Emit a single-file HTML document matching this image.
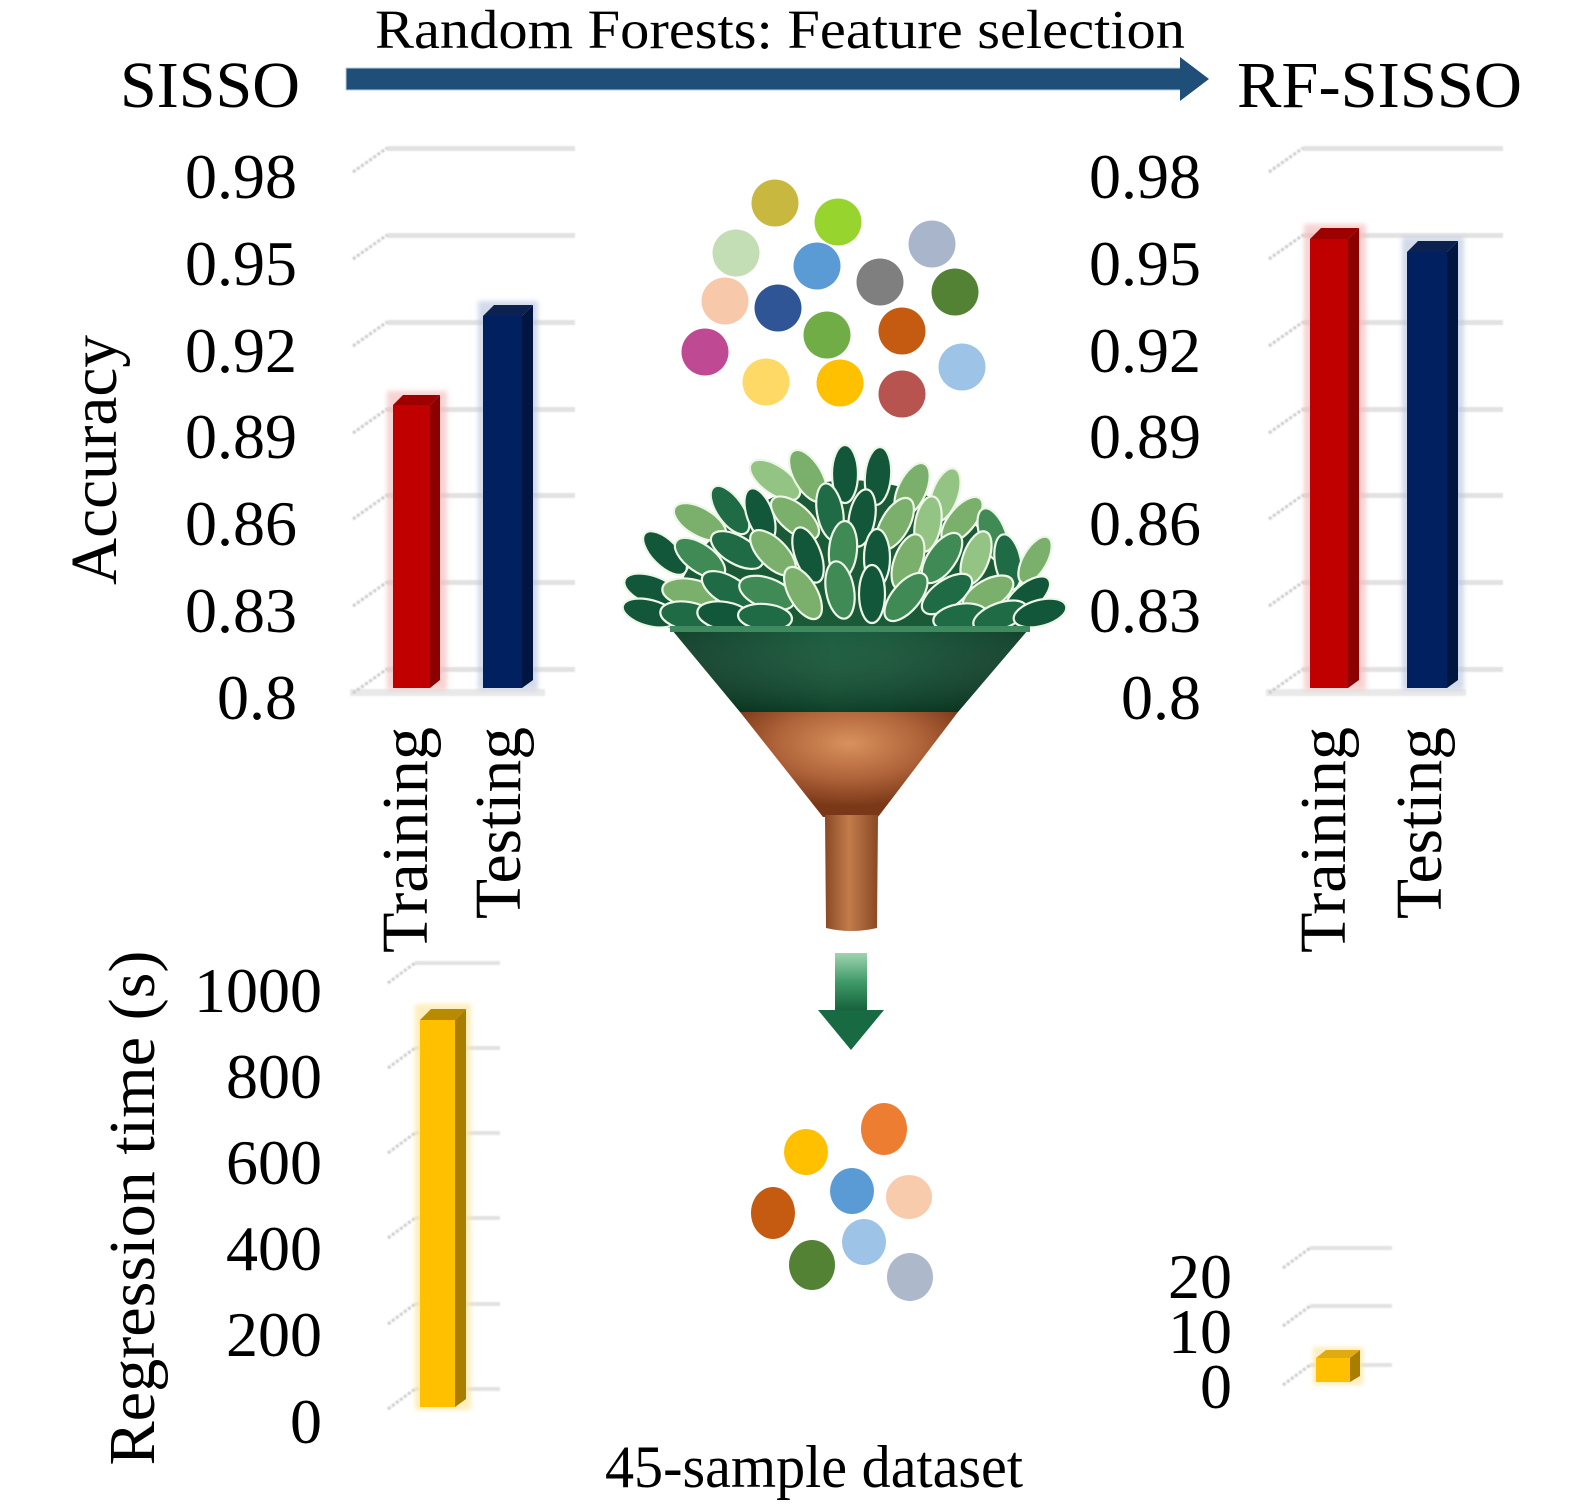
<!DOCTYPE html>
<html>
<head>
<meta charset="utf-8">
<style>
  html,body{margin:0;padding:0;background:#ffffff;}
  svg{display:block;}
  text{font-family:"Liberation Serif","Times New Roman",serif;fill:#000;}
</style>
</head>
<body>
<svg width="1583" height="1506" viewBox="0 0 1583 1506" xmlns="http://www.w3.org/2000/svg">
  <defs>
    <linearGradient id="gband" x1="0" y1="0" x2="1" y2="0">
      <stop offset="0" stop-color="#0a3a24"/>
      <stop offset="0.45" stop-color="#125636"/>
      <stop offset="0.6" stop-color="#115234"/>
      <stop offset="1" stop-color="#0a3a24"/>
    </linearGradient>
    <linearGradient id="gbandv" x1="0" y1="0" x2="0" y2="1">
      <stop offset="0" stop-color="#ffffff" stop-opacity="0.04"/>
      <stop offset="1" stop-color="#000000" stop-opacity="0.25"/>
    </linearGradient>
    <radialGradient id="brown" cx="0.5" cy="0.3" r="0.6">
      <stop offset="0" stop-color="#d9925d"/>
      <stop offset="0.55" stop-color="#b0643a"/>
      <stop offset="1" stop-color="#7a3818"/>
    </radialGradient>
    <linearGradient id="spout" x1="0" y1="0" x2="1" y2="0">
      <stop offset="0" stop-color="#8a4825"/>
      <stop offset="0.45" stop-color="#c27c4b"/>
      <stop offset="1" stop-color="#8a4825"/>
    </linearGradient>
    <linearGradient id="garrow" x1="0" y1="0" x2="0" y2="1">
      <stop offset="0" stop-color="#9fd4b0"/>
      <stop offset="0.5" stop-color="#3f9a68"/>
      <stop offset="1" stop-color="#15603b"/>
    </linearGradient>
    <filter id="soft" x="-10%" y="-10%" width="120%" height="120%">
      <feGaussianBlur stdDeviation="0.9"/>
    </filter>
    <filter id="halo" x="-30%" y="-30%" width="160%" height="160%">
      <feGaussianBlur stdDeviation="2.5"/>
    </filter>
  </defs>

  <rect x="0" y="0" width="1583" height="1506" fill="#ffffff"/>

  <!-- ===== Top header ===== -->
  <text x="375" y="48" font-size="55" textLength="810" lengthAdjust="spacingAndGlyphs">Random Forests: Feature selection</text>
  <text x="120" y="107" font-size="66" textLength="180" lengthAdjust="spacingAndGlyphs">SISSO</text>
  <text x="1237" y="107" font-size="66" textLength="285" lengthAdjust="spacingAndGlyphs">RF-SISSO</text>
  <rect x="346" y="68" width="836" height="22" fill="#1f4e79" stroke="#b9cde0" stroke-width="1"/>
  <polygon points="1180,57 1209,79 1180,101" fill="#1f4e79"/>

  <!-- ===== Left accuracy chart ===== -->
  <g filter="url(#soft)">
    <g fill="#e2e2e2">
      <rect x="387" y="146" width="188" height="5"/>
      <rect x="387" y="233" width="188" height="5"/>
      <rect x="387" y="320" width="188" height="5"/>
      <rect x="387" y="407" width="188" height="5"/>
      <rect x="387" y="493" width="188" height="5"/>
      <rect x="387" y="580" width="188" height="5"/>
      <rect x="387" y="667" width="188" height="5"/>
      <rect x="350" y="689" width="195" height="7" fill="#e9e9e9"/>
    </g>
    <g stroke="#c9c9c9" stroke-width="3" stroke-dasharray="3,2">
      <line x1="353" y1="172" x2="387" y2="148"/>
      <line x1="353" y1="259" x2="387" y2="235"/>
      <line x1="353" y1="346" x2="387" y2="322"/>
      <line x1="353" y1="433" x2="387" y2="409"/>
      <line x1="353" y1="519" x2="387" y2="495"/>
      <line x1="353" y1="606" x2="387" y2="582"/>
      <line x1="353" y1="693" x2="387" y2="669"/>
    </g>
  </g>
  <rect x="387" y="391" width="60" height="299" fill="#f3b5b5" opacity="0.6" filter="url(#halo)"/>
  <polygon points="430,405 440,395 440,680 430,688" fill="#8c0000"/>
  <polygon points="393,405 403,395 440,395 430,405" fill="#9e0000"/>
  <rect x="393" y="405" width="37" height="283" fill="#c00000"/>
  <rect x="478" y="301" width="60" height="389" fill="#b6c2dc" opacity="0.6" filter="url(#halo)"/>
  <polygon points="522,316 533,305 533,680 522,688" fill="#00153f"/>
  <polygon points="483,316 494,305 533,305 522,316" fill="#0c2150"/>
  <rect x="483" y="316" width="39" height="372" fill="#002060"/>

  <g font-size="64" text-anchor="end">
    <text x="297" y="198">0.98</text>
    <text x="297" y="285">0.95</text>
    <text x="297" y="372">0.92</text>
    <text x="297" y="458">0.89</text>
    <text x="297" y="545">0.86</text>
    <text x="297" y="632">0.83</text>
    <text x="297" y="719">0.8</text>
  </g>
  <text transform="translate(116,460) rotate(-90)" font-size="66" text-anchor="middle" textLength="250" lengthAdjust="spacingAndGlyphs">Accuracy</text>
  <text transform="translate(427,727) rotate(-90)" font-size="66" text-anchor="end" textLength="226" lengthAdjust="spacingAndGlyphs">Training</text>
  <text transform="translate(520,727) rotate(-90)" font-size="66" text-anchor="end" textLength="192" lengthAdjust="spacingAndGlyphs">Testing</text>

  <!-- ===== Right accuracy chart ===== -->
  <g filter="url(#soft)">
    <g fill="#e2e2e2">
      <rect x="1303" y="146" width="200" height="5"/>
      <rect x="1303" y="233" width="200" height="5"/>
      <rect x="1303" y="320" width="200" height="5"/>
      <rect x="1303" y="407" width="200" height="5"/>
      <rect x="1303" y="493" width="200" height="5"/>
      <rect x="1303" y="580" width="200" height="5"/>
      <rect x="1303" y="667" width="200" height="5"/>
      <rect x="1266" y="689" width="200" height="7" fill="#e9e9e9"/>
    </g>
    <g stroke="#c9c9c9" stroke-width="3" stroke-dasharray="3,2">
      <line x1="1269" y1="172" x2="1303" y2="148"/>
      <line x1="1269" y1="259" x2="1303" y2="235"/>
      <line x1="1269" y1="346" x2="1303" y2="322"/>
      <line x1="1269" y1="433" x2="1303" y2="409"/>
      <line x1="1269" y1="519" x2="1303" y2="495"/>
      <line x1="1269" y1="606" x2="1303" y2="582"/>
      <line x1="1269" y1="693" x2="1303" y2="669"/>
    </g>
  </g>
  <rect x="1304" y="224" width="62" height="466" fill="#f3b5b5" opacity="0.6" filter="url(#halo)"/>
  <polygon points="1348,239 1359,228 1359,680 1348,688" fill="#8c0000"/>
  <polygon points="1310,239 1321,228 1359,228 1348,239" fill="#9e0000"/>
  <rect x="1310" y="239" width="38" height="449" fill="#c00000"/>
  <rect x="1402" y="237" width="62" height="453" fill="#b6c2dc" opacity="0.6" filter="url(#halo)"/>
  <polygon points="1447,252 1458,241 1458,680 1447,688" fill="#00153f"/>
  <polygon points="1407,252 1418,241 1458,241 1447,252" fill="#0c2150"/>
  <rect x="1407" y="252" width="40" height="436" fill="#002060"/>

  <g font-size="64" text-anchor="end">
    <text x="1201" y="198">0.98</text>
    <text x="1201" y="285">0.95</text>
    <text x="1201" y="372">0.92</text>
    <text x="1201" y="458">0.89</text>
    <text x="1201" y="545">0.86</text>
    <text x="1201" y="632">0.83</text>
    <text x="1201" y="719">0.8</text>
  </g>
  <text transform="translate(1345,727) rotate(-90)" font-size="66" text-anchor="end" textLength="226" lengthAdjust="spacingAndGlyphs">Training</text>
  <text transform="translate(1441,727) rotate(-90)" font-size="66" text-anchor="end" textLength="192" lengthAdjust="spacingAndGlyphs">Testing</text>

  <!-- ===== Bottom-left regression time chart ===== -->
  <g filter="url(#soft)">
    <g fill="#e2e2e2">
      <rect x="415" y="961" width="85" height="4"/>
      <rect x="415" y="1046" width="85" height="4"/>
      <rect x="415" y="1131" width="85" height="4"/>
      <rect x="415" y="1216" width="85" height="4"/>
      <rect x="415" y="1302" width="85" height="4"/>
      <rect x="415" y="1387" width="85" height="4"/>
    </g>
    <g stroke="#cbcbcb" stroke-width="3" stroke-dasharray="3,2">
      <line x1="388" y1="983" x2="415" y2="963"/>
      <line x1="388" y1="1068" x2="415" y2="1048"/>
      <line x1="388" y1="1153" x2="415" y2="1133"/>
      <line x1="388" y1="1238" x2="415" y2="1218"/>
      <line x1="388" y1="1324" x2="415" y2="1304"/>
      <line x1="388" y1="1409" x2="415" y2="1389"/>
    </g>
  </g>
  <rect x="415" y="1004" width="56" height="406" fill="#fde7a0" opacity="0.7" filter="url(#halo)"/>
  <polygon points="455,1020 466,1009 466,1399 455,1407" fill="#a87d00"/>
  <polygon points="420,1020 431,1009 466,1009 455,1020" fill="#b88a00"/>
  <rect x="420" y="1020" width="35" height="387" fill="#ffc000"/>

  <g font-size="64" text-anchor="end">
    <text x="322" y="1012">1000</text>
    <text x="322" y="1098">800</text>
    <text x="322" y="1184">600</text>
    <text x="322" y="1270">400</text>
    <text x="322" y="1356">200</text>
    <text x="322" y="1443">0</text>
  </g>
  <text transform="translate(154,1208) rotate(-90)" font-size="66" text-anchor="middle" textLength="515" lengthAdjust="spacingAndGlyphs">Regression time (s)</text>

  <!-- ===== Bottom-right regression time chart ===== -->
  <g filter="url(#soft)">
    <g fill="#e2e2e2">
      <rect x="1310" y="1246" width="82" height="4"/>
      <rect x="1310" y="1304" width="82" height="4"/>
      <rect x="1310" y="1363" width="82" height="4"/>
    </g>
    <g stroke="#cbcbcb" stroke-width="3" stroke-dasharray="3,2">
      <line x1="1283" y1="1268" x2="1310" y2="1248"/>
      <line x1="1283" y1="1326" x2="1310" y2="1306"/>
      <line x1="1283" y1="1385" x2="1310" y2="1365"/>
    </g>
  </g>
  <rect x="1313" y="1347" width="50" height="38" fill="#fde7a0" opacity="0.7" filter="url(#halo)"/>
  <polygon points="1350,1358 1360,1350 1360,1376 1350,1382" fill="#a87d00"/>
  <polygon points="1316,1358 1326,1350 1360,1350 1350,1358" fill="#e0aa10"/>
  <rect x="1316" y="1358" width="34" height="24" fill="#ffc000"/>
  <g font-size="64" text-anchor="end">
    <text x="1232" y="1298">20</text>
    <text x="1232" y="1353">10</text>
    <text x="1232" y="1408">0</text>
  </g>

  <!-- ===== Top feature circles ===== -->
  <g>
    <circle cx="775" cy="203" r="23.5" fill="#c8b840"/>
    <circle cx="838" cy="222" r="23.5" fill="#98d42e"/>
    <circle cx="736" cy="253" r="23.5" fill="#c3ddb5"/>
    <circle cx="817" cy="266" r="23.5" fill="#5a9bd5"/>
    <circle cx="932" cy="244" r="23.5" fill="#a9b5ca"/>
    <circle cx="880" cy="282" r="23.5" fill="#7f7f7f"/>
    <circle cx="955" cy="292" r="23.5" fill="#548235"/>
    <circle cx="725" cy="301" r="23.5" fill="#f7c8a9"/>
    <circle cx="778" cy="308" r="23.5" fill="#2f5597"/>
    <circle cx="827" cy="335" r="23.5" fill="#70ad47"/>
    <circle cx="902" cy="331" r="23.5" fill="#c55a11"/>
    <circle cx="705" cy="352" r="23.5" fill="#bf4a93"/>
    <circle cx="766" cy="382" r="23.5" fill="#ffd966"/>
    <circle cx="840" cy="383" r="23.5" fill="#ffc000"/>
    <circle cx="902" cy="394" r="23.5" fill="#b85450"/>
    <circle cx="962" cy="367" r="23.5" fill="#9dc3e6"/>
  </g>

  <!-- ===== Tree / funnel ===== -->
  <path d="M668,628 Q678,565 722,530 Q778,482 850,480 Q928,482 980,530 Q1022,565 1028,628 Z" fill="#1b5a37"/>
  <g stroke="#eef6e8" stroke-width="2.2">
    <!-- row A -->
    <ellipse cx="775" cy="480" rx="14" ry="29" transform="rotate(-55 775 480)" fill="#94c484"/>
    <ellipse cx="808" cy="476" rx="14" ry="29" transform="rotate(-30 808 476)" fill="#7ab06c"/>
    <ellipse cx="845" cy="474" rx="13" ry="29" fill="#13573a"/>
    <ellipse cx="878" cy="476" rx="13" ry="29" transform="rotate(5 878 476)" fill="#13573a"/>
    <ellipse cx="912" cy="490" rx="14" ry="29" transform="rotate(25 912 490)" fill="#7ab06c"/>
    <ellipse cx="945" cy="495" rx="13" ry="28" transform="rotate(20 945 495)" fill="#94c484"/>
    <!-- row B -->
    <ellipse cx="700" cy="522" rx="14" ry="29" transform="rotate(-60 700 522)" fill="#7ab06c"/>
    <ellipse cx="730" cy="510" rx="13" ry="28" transform="rotate(-35 730 510)" fill="#1f6b45"/>
    <ellipse cx="760" cy="515" rx="13" ry="28" transform="rotate(-20 760 515)" fill="#13573a"/>
    <ellipse cx="795" cy="518" rx="14" ry="29" transform="rotate(-50 795 518)" fill="#7ab06c"/>
    <ellipse cx="830" cy="512" rx="13" ry="29" transform="rotate(-10 830 512)" fill="#1f6b45"/>
    <ellipse cx="862" cy="518" rx="13" ry="29" transform="rotate(10 862 518)" fill="#13573a"/>
    <ellipse cx="895" cy="524" rx="14" ry="29" transform="rotate(30 895 524)" fill="#7ab06c"/>
    <ellipse cx="928" cy="524" rx="13" ry="28" transform="rotate(10 928 524)" fill="#94c484"/>
    <ellipse cx="962" cy="520" rx="13" ry="28" transform="rotate(40 962 520)" fill="#7ab06c"/>
    <ellipse cx="993" cy="535" rx="13" ry="28" transform="rotate(-20 993 535)" fill="#3f8a55"/>
    <!-- row C -->
    <ellipse cx="665" cy="553" rx="13" ry="28" transform="rotate(-45 665 553)" fill="#13573a"/>
    <ellipse cx="700" cy="558" rx="14" ry="29" transform="rotate(-55 700 558)" fill="#3f8a55"/>
    <ellipse cx="737" cy="550" rx="14" ry="29" transform="rotate(-60 737 550)" fill="#1f6b45"/>
    <ellipse cx="773" cy="553" rx="14" ry="29" transform="rotate(-45 773 553)" fill="#7ab06c"/>
    <ellipse cx="808" cy="555" rx="13" ry="29" transform="rotate(-20 808 555)" fill="#13573a"/>
    <ellipse cx="843" cy="550" rx="14" ry="29" transform="rotate(5 843 550)" fill="#3f8a55"/>
    <ellipse cx="877" cy="558" rx="13" ry="29" fill="#13573a"/>
    <ellipse cx="908" cy="562" rx="14" ry="29" transform="rotate(20 908 562)" fill="#7ab06c"/>
    <ellipse cx="942" cy="558" rx="14" ry="29" transform="rotate(35 942 558)" fill="#3f8a55"/>
    <ellipse cx="976" cy="558" rx="13" ry="28" transform="rotate(20 976 558)" fill="#94c484"/>
    <ellipse cx="1008" cy="562" rx="13" ry="28" transform="rotate(-10 1008 562)" fill="#1f6b45"/>
    <ellipse cx="1035" cy="560" rx="12" ry="26" transform="rotate(30 1035 560)" fill="#7ab06c"/>
    <!-- row D -->
    <ellipse cx="652" cy="590" rx="14" ry="29" transform="rotate(-70 652 590)" fill="#13573a"/>
    <ellipse cx="690" cy="593" rx="14" ry="28" transform="rotate(-80 690 593)" fill="#7ab06c"/>
    <ellipse cx="728" cy="590" rx="14" ry="29" transform="rotate(-60 728 590)" fill="#1f6b45"/>
    <ellipse cx="767" cy="593" rx="15" ry="29" transform="rotate(-70 767 593)" fill="#3f8a55"/>
    <ellipse cx="803" cy="593" rx="14" ry="29" transform="rotate(-30 803 593)" fill="#7ab06c"/>
    <ellipse cx="840" cy="590" rx="14" ry="29" transform="rotate(-10 840 590)" fill="#3f8a55"/>
    <ellipse cx="872" cy="594" rx="13" ry="29" fill="#13573a"/>
    <ellipse cx="906" cy="597" rx="14" ry="29" transform="rotate(40 906 597)" fill="#3f8a55"/>
    <ellipse cx="947" cy="594" rx="14" ry="29" transform="rotate(55 947 594)" fill="#1f6b45"/>
    <ellipse cx="988" cy="594" rx="14" ry="28" transform="rotate(60 988 594)" fill="#7ab06c"/>
    <ellipse cx="1027" cy="597" rx="13" ry="28" transform="rotate(50 1027 597)" fill="#13573a"/>
    <!-- row E -->
    <ellipse cx="650" cy="613" rx="13" ry="28" transform="rotate(-75 650 613)" fill="#13573a"/>
    <ellipse cx="688" cy="616" rx="14" ry="28" transform="rotate(-80 688 616)" fill="#1f6b45"/>
    <ellipse cx="725" cy="616" rx="14" ry="28" transform="rotate(-80 725 616)" fill="#13573a"/>
    <ellipse cx="765" cy="617" rx="13" ry="27" transform="rotate(-85 765 617)" fill="#1f6b45"/>
    <ellipse cx="960" cy="617" rx="13" ry="27" transform="rotate(80 960 617)" fill="#1f6b45"/>
    <ellipse cx="1000" cy="616" rx="13" ry="28" transform="rotate(70 1000 616)" fill="#1f6b45"/>
    <ellipse cx="1040" cy="613" rx="13" ry="27" transform="rotate(75 1040 613)" fill="#13573a"/>
  </g>
  <!-- funnel green band -->
  <polygon points="672,630 1028,630 958,712 740,712" fill="url(#gband)"/>
  <polygon points="672,630 1028,630 958,712 740,712" fill="url(#gbandv)"/>
  <rect x="670" y="626" width="360" height="6" fill="#3f8a5e"/>
  <!-- brown cone -->
  <polygon points="740,712 958,712 878,817 823,817" fill="url(#brown)"/>
  <!-- spout -->
  <path d="M825,815 L878,815 L877,928 Q851,934 826,928 Z" fill="url(#spout)"/>

  <!-- ===== Down arrow ===== -->
  <rect x="835" y="953" width="32" height="58" fill="url(#garrow)"/>
  <polygon points="818,1010 884,1010 851,1050" fill="#186a42"/>

  <!-- ===== Selected feature circles ===== -->
  <g>
    <ellipse cx="884" cy="1129" rx="23" ry="26" fill="#ed7d31"/>
    <ellipse cx="806" cy="1152" rx="22" ry="23" fill="#ffc000"/>
    <ellipse cx="852" cy="1191" rx="22" ry="23" fill="#5b9bd5"/>
    <ellipse cx="909" cy="1197" rx="23" ry="22" fill="#f8cbad"/>
    <ellipse cx="773" cy="1213" rx="22" ry="26" fill="#c55a11"/>
    <ellipse cx="864" cy="1242" rx="22" ry="23" fill="#9dc3e6"/>
    <ellipse cx="812" cy="1265" rx="23" ry="25" fill="#548235"/>
    <ellipse cx="910" cy="1277" rx="23" ry="24" fill="#adb9ca"/>
  </g>

  <text x="605" y="1487" font-size="60" textLength="418" lengthAdjust="spacingAndGlyphs">45-sample dataset</text>
</svg>
</body>
</html>
